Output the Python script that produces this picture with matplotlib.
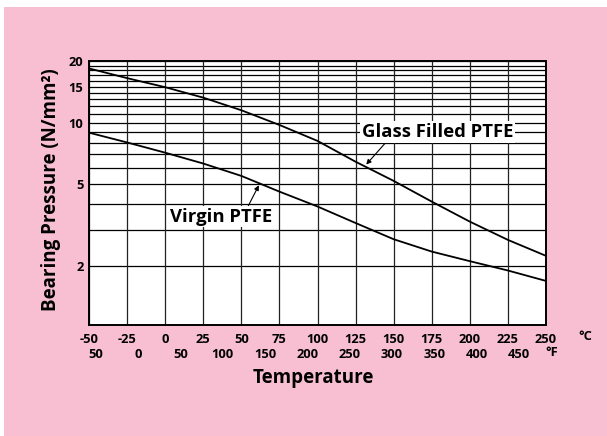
import matplotlib
matplotlib.use("Agg")
import matplotlib.pyplot as plt
from matplotlib.patches import Rectangle
import numpy as np

# Data
temp_c = [-50, -25, 0, 25, 50, 75, 100, 125, 150, 175, 200, 225, 250]
glass_filled = [18.4, 16.5, 14.9, 13.25, 11.5, 9.75, 8.15, 6.45, 5.2, 4.12, 3.29, 2.68, 2.24]
virgin = [8.94, 8.01, 7.14, 6.32, 5.5, 4.61, 3.9, 3.24, 2.7, 2.35, 2.11, 1.9, 1.69]

c_ticks = list(range(-50, 251, 25))
c_labels = [str(v) for v in c_ticks]
f_ticks = [-50, 0, 50, 100, 150, 200, 250, 300, 350, 400, 450]
f_labels = ["50", "0", "50", "100", "150", "200", "250", "300", "350", "400", "450"]
y_ticks = [2, 5, 10, 15, 20]
y_labels = ["2", "5", "10", "15", "20"]
y_grid = list(range(2, 21))

PINK = "#F8BFD3"
FONT = ["Open Sans", "DejaVu Sans"]
plt.rcParams["font.family"] = FONT
plt.rcParams["font.weight"] = "bold"

W, H = 607, 436
fig = plt.figure(figsize=(W / 100, H / 100), dpi=100, facecolor="white")
fig.patches.append(Rectangle((4 / W, 0), 1, 1 - 7 / H, transform=fig.transFigure,
                             facecolor=PINK, edgecolor="none", zorder=-10))

L, R, T, B = 89, 546, 61, 325
ax = fig.add_axes([L / W, 1 - B / H, (R - L) / W, (B - T) / H])
ax.set_facecolor("white")
ax.set_yscale("log")
ax.set_xlim(-50, 250)
ax.set_ylim(1.03, 20)

# grid
for yv in y_grid:
    ax.axhline(yv, color="black", lw=0.9, zorder=1)
for xv in c_ticks:
    ax.axvline(xv, color="#222222", lw=0.9, zorder=1)

ax.plot(temp_c, glass_filled, color="black", lw=1.3, zorder=3)
ax.plot(temp_c, virgin, color="black", lw=1.3, zorder=3)

for s in ax.spines.values():
    s.set_linewidth(1.4)
    s.set_color("black")

TICK_FS = 9.3
ax.set_yticks(y_ticks)
ax.set_yticklabels(y_labels)
ax.yaxis.set_minor_locator(matplotlib.ticker.NullLocator())
ax.set_xticks(c_ticks)
ax.set_xticklabels(c_labels)
ax.tick_params(axis="both", length=0, labelsize=TICK_FS)
ax.tick_params(axis="x", pad=6)
ax.tick_params(axis="y", pad=4)
for lab in ax.get_xticklabels() + ax.get_yticklabels():
    lab.set_fontweight("bold")

def c2f(c):
    return np.asarray(c) * 9 / 5 + 32

def f2c(f):
    return (np.asarray(f) - 32) * 5 / 9

sec = ax.secondary_xaxis(-0.072, functions=(c2f, f2c))
sec.set_xticks(f_ticks)
sec.set_xticklabels(f_labels)
sec.tick_params(length=0, labelsize=TICK_FS, pad=3)
sec.spines["bottom"].set_visible(False)
for lab in sec.get_xticklabels():
    lab.set_fontweight("bold")

fig.text(585 / W, 1 - 336 / H, "°C", ha="center", va="center", fontsize=TICK_FS, fontweight="bold")
fig.text(552 / W, 1 - 353 / H, "°F", ha="center", va="center", fontsize=TICK_FS, fontweight="bold")

fig.text(313 / W, 1 - 378 / H, "Temperature", ha="center", va="center",
         fontsize=13.5, fontweight="bold")
fig.text(51 / W, 1 - 190 / H, "Bearing Pressure (N/mm²)", ha="center", va="center",
         rotation=90, fontsize=13.5, fontweight="bold")

box = dict(boxstyle="square,pad=0.1", facecolor="white", edgecolor="none")
ax.annotate("Glass Filled PTFE", xy=(132, 6.25), xytext=(178.7, 9.04),
            ha="center", va="center", fontsize=13.3, fontweight="bold",
            bbox=box, zorder=5,
            arrowprops=dict(arrowstyle="-|>", lw=0.8, color="black", mutation_scale=7,
                            shrinkA=0, shrinkB=0, relpos=(0.17, 0.0)))
ax.annotate("Virgin PTFE", xy=(61.5, 4.95), xytext=(36.5, 3.48),
            ha="center", va="center", fontsize=13.3, fontweight="bold",
            bbox=box, zorder=5,
            arrowprops=dict(arrowstyle="-|>", lw=0.8, color="black", mutation_scale=7,
                            shrinkA=0, shrinkB=0, relpos=(0.76, 1.0)))

fig.savefig("out.png", dpi=100, facecolor=fig.get_facecolor())
